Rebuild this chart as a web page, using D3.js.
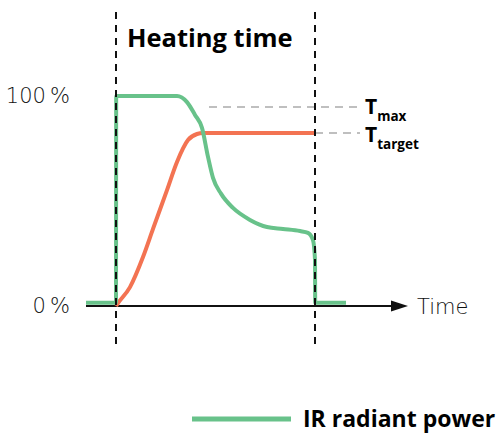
<!DOCTYPE html>
<html>
<head>
<meta charset="utf-8">
<script src="https://cdn.jsdelivr.net/npm/d3@7"></script>
<style>
  body { margin: 0; background: #fff; }
  text { font-family: "Open Sans", sans-serif; }
  text.light { font-family: "DejaVu Sans", sans-serif; font-weight: 200; }
</style>
</head>
<body>
<div id="chart"></div>
<script>
// time in arbitrary units, heating starts at t = 0 and stops at ~10
let powerT = [-1.5, 0, 0.01, 3.05, 3.55, 3.95, 4.3, 4.6, 4.85, 5.25, 5.85, 6.7, 7.55, 8.35, 9.2, 9.6, 9.85, 9.95, 9.96, 11.5];
let powerV = [1.5, 1.5, 100, 100, 97.1, 91, 84.8, 71, 61, 53.5, 46.7, 41, 37.6, 36.7, 35.7, 34.8, 31.4, 22, 1.5, 1.5];

let tempT = [0, 0.1, 0.7, 1.35, 1.85, 2.55, 3.05, 3.6, 4.05, 4.35, 9.95];
let tempV = [0, 1.4, 9, 23.3, 36.7, 55.2, 68.6, 79, 81.9, 82.4, 82.4];

let heatStart = 0, heatEnd = 9.95;
let tMax = 94.8, tTarget = 82.4;
let yTicks = [0, 100];

let width = 501, height = 434;
let green = "#68c28a", orange = "#f37352";

let x = d3.scaleLinear().domain([-1.5, 14.6]).range([86, 408]);
let y = d3.scaleLinear().domain([0, 100]).range([306, 96]);

let svg = d3.select("#chart").append("svg")
  .attr("width", width).attr("height", height);

// reference lines for T max / T target
svg.append("line")
  .attr("x1", 209).attr("x2", 360)
  .attr("y1", y(tMax)).attr("y2", y(tMax))
  .attr("stroke", "#aaa").attr("stroke-width", 1.5)
  .attr("stroke-dasharray", "8,6");
svg.append("line")
  .attr("x1", x(heatEnd)).attr("x2", 360)
  .attr("y1", y(tTarget)).attr("y2", y(tTarget))
  .attr("stroke", "#aaa").attr("stroke-width", 1.5)
  .attr("stroke-dasharray", "8,6");

// x axis with arrow
svg.append("line")
  .attr("x1", 86).attr("x2", 395)
  .attr("y1", y(0)).attr("y2", y(0))
  .attr("stroke", "#111").attr("stroke-width", 2);
svg.append("path")
  .attr("d", `M391,${y(0) - 5.5}L408,${y(0)}L391,${y(0) + 5.5}Z`)
  .attr("fill", "#111");
svg.append("text")
  .attr("class", "light")
  .attr("x", 417).attr("y", y(0) + 8)
  .attr("font-size", 21)
  .attr("fill", "#111")
  .text("Time");

// y tick labels
let yAxis = svg.append("g")
  .attr("transform", "translate(86,0)")
  .call(d3.axisLeft(y).tickValues(yTicks).tickSize(0).tickPadding(16)
    .tickFormat((d) => d + "\u2009%"));
yAxis.select(".domain").remove();
yAxis.attr("font-family", null).attr("font-size", null);
yAxis.selectAll("text")
  .attr("class", "light")
  .attr("font-size", 21)
  .attr("fill", "#111");

let line = d3.line()
  .x((d) => x(d[0]))
  .y((d) => y(d[1]))
  .curve(d3.curveMonotoneX);

svg.append("path")
  .datum(tempT.map((t, i) => [t, tempV[i]]))
  .attr("d", line)
  .attr("fill", "none").attr("stroke", orange)
  .attr("stroke-width", 4);

svg.append("path")
  .datum(powerT.map((t, i) => [t, powerV[i]]))
  .attr("d", line)
  .attr("fill", "none").attr("stroke", green)
  .attr("stroke-width", 4);

// heating window markers
[heatStart, heatEnd].forEach((t) => {
  svg.append("line")
    .attr("x1", x(t)).attr("x2", x(t))
    .attr("y1", 12).attr("y2", 345)
    .attr("stroke", "#111").attr("stroke-width", 2)
    .attr("stroke-dasharray", "7,6");
});

svg.append("text")
  .attr("x", 127).attr("y", 47)
  .attr("font-size", 25.5).attr("font-weight", 700)
  .attr("fill", "#000")
  .text("Heating time");

// T labels
function tLabel(yBase, sub) {
  let t = svg.append("text").attr("x", 365).attr("y", yBase)
    .attr("font-weight", 700).attr("fill", "#000");
  t.append("tspan").attr("font-size", 21).text("T");
  t.append("tspan").attr("font-size", 13.5).attr("dy", 7).attr("dx", 0).text(sub);
}
tLabel(114, "max");
tLabel(142, "target");

// legend
svg.append("line")
  .attr("x1", 192).attr("x2", 291)
  .attr("y1", 419).attr("y2", 419)
  .attr("stroke", green).attr("stroke-width", 5);
svg.append("text")
  .attr("x", 303).attr("y", 427)
  .attr("font-size", 23).attr("font-weight", 700)
  .attr("fill", "#000")
  .text("IR radiant power");
</script>
</body>
</html>
